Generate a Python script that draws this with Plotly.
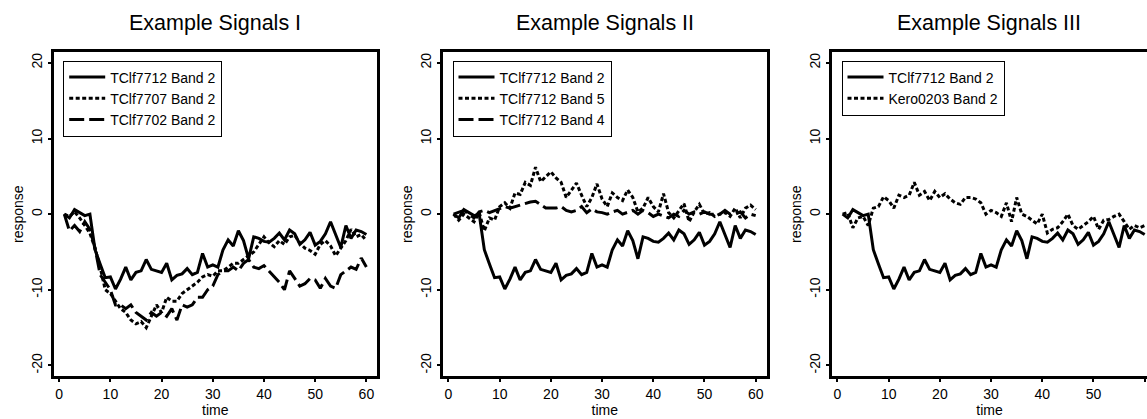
import plotly.graph_objects as go

W, H = 1147, 419

time = list(range(1, 61))

tclf7712_b2 = [0, -0.5, 0.6, 0.2, -0.2, 0, -4.7, -6.6, -8.4, -8.3,
               -9.9, -8.6, -7.0, -8.7, -7.7, -7.5, -6.0, -7.3, -7.5, -7.7,
               -6.5, -8.7, -8.1, -7.9, -7.2, -8.0, -7.7, -5.2, -7.0, -6.7,
               -7.0, -4.7, -3.4, -4.2, -2.2, -3.5, -5.9, -3.0, -3.2, -3.6,
               -3.7, -3.2, -2.5, -3.4, -2.1, -2.6, -4.0, -3.4, -2.4, -4.1,
               -3.6, -2.6, -1.0, -2.6, -4.4, -1.5, -3.2, -2.1, -2.3, -2.7]

tclf7707_b2 = [0, -0.3, 0.3, -0.5, -1.5, -2.5, -4.5, -7.0, -10.0, -10.5,
               -11.5, -12.5, -13.0, -14.0, -14.5, -14.2, -15.0, -13.5, -12.0, -13.0,
               -11.0, -11.5, -11.5, -10.5, -10.0, -9.5, -9.0, -8.3, -8.0, -8.2,
               -7.5, -7.5, -7.0, -6.5, -6.5, -6.0, -5.5, -5.0, -4.0, -3.0,
               -3.8, -4.3, -3.5, -4.0, -3.0, -2.8, -3.8, -4.5, -4.8, -5.3,
               -4.0, -3.5, -4.2, -5.5, -4.5, -3.5, -2.0, -3.0, -2.7, -3.5]

tclf7702_b2 = [0, -2.2, -1.5, -2.3, -1.0, -2.0, -4.5, -8.0, -9.0, -10.0,
               -12.0, -12.0, -12.5, -12.0, -13.0, -13.5, -14.0, -13.0, -13.5, -13.0,
               -13.5, -12.5, -14.0, -12.0, -12.3, -12.0, -11.0, -11.0, -10.0, -9.5,
               -8.0, -7.5, -7.5, -7.0, -7.5, -6.5, -6.0, -7.0, -7.2, -6.8,
               -7.5, -8.3, -9.0, -10.0, -7.5, -8.5, -9.5, -9.2, -8.5, -8.7,
               -9.8, -8.5, -9.5, -9.8, -8.0, -7.5, -7.0, -7.3, -5.8, -7.0]

tclf7712_b5 = [0, -0.8, 0, -0.5, -1.0, 0.2, -2.2, -0.5, -0.8, 1.0,
               1.5, 0.8, 2.8, 2.6, 4.2, 3.8, 6.2, 4.3, 5.0, 5.6,
               4.8, 4.2, 2.2, 3.2, 4.1, 2.5, 1.0, 2.2, 4.0, 2.0,
               1.0, 2.8, 2.2, 1.8, 3.2, 2.2, 0.3, 0.8, 2.2, 1.0,
               0.3, 2.7, 0.2, -0.5, 0.5, 1.4, -1.0, 0.3, 1.3, 0.0,
               0.2, -0.3, 0.0, 0.2, -0.3, 0.8, -0.5, 0.8, 1.2, 0.6]

tclf7712_b4 = [0, 0.2, 0.5, 0.0, -0.5, 0.3, 0.5, 0.2, 0.5, 0.8,
               1.0, 0.8, 1.0, 1.3, 1.4, 1.6, 1.7, 1.2, 0.8, 0.8,
               0.8, 1.0, 0.5, 0.3, 0.5, 1.0, 0.2, 0.7, 0.3, 0.2,
               0.0, 0.3, 0.5, 0.0, 0.2, 0.5, 0.0, 0.5, 0.2, -0.3,
               0.0, -0.3, -0.5, 0.0, -0.3, 0.5, 0.0, 0.3, 0.0, 0.3,
               0.0, 0.0, 0.0, 0.5, 0.0, 0.0, 0.3, -0.5, 0.0, -0.2]

kero0203_b2 = [0, 0.2, -1.8, -0.5, -0.3, -1.5, 0.8, 1.0, 2.3, 1.8,
               0.8, 2.5, 2.2, 2.5, 4.2, 2.5, 3.0, 1.8, 3.0, 2.2,
               2.7, 2.0, 1.5, 1.3, 2.2, 2.2, 2.0, 1.5, 0.0, 0.5,
               0.2, -0.3, 1.5, -1.0, 2.2, 0.0, -0.3, -0.8, -1.3, 0.0,
               -2.5, -2.0, -1.8, -1.0, 0.0, -1.5, -2.0, -1.5, -1.0, -0.3,
               -2.0, -0.8, -0.7, -0.3, 0.0, -1.0, -2.0, -1.5, -1.8, -1.5]

panel_titles = ["Example Signals I", "Example Signals II", "Example Signals III"]
x_ticks = [0, 10, 20, 30, 40, 50, 60]
y_ticks = [-20, -10, 0, 10, 20]
y_tick_labels = ["-20", "-10", "0", "10", "20"]

panels = [
    [("TClf7712 Band 2", tclf7712_b2, "solid"),
     ("TClf7707 Band 2", tclf7707_b2, "dot"),
     ("TClf7702 Band 2", tclf7702_b2, "dash")],
    [("TClf7712 Band 2", tclf7712_b2, "solid"),
     ("TClf7712 Band 5", tclf7712_b5, "dot"),
     ("TClf7712 Band 4", tclf7712_b4, "dash")],
    [("TClf7712 Band 2", tclf7712_b2, "solid"),
     ("Kero0203 Band 2", kero0203_b2, "dot")],
]

DASH = {"solid": "solid", "dot": "4px,2.5px", "dash": "15px,5px"}
FONT = "Liberation Sans, Arial, Helvetica, sans-serif"

# domains in pixels (left, right)
x_dom_px = [(53.7, 377.0), (443.0, 766.5), (832.0, 1147.0)]
y_dom_px = (52.3, 376.0)
px_per_unit = 5.12
x_min = -1.07

fig = go.Figure()
legend_names = ["legend", "legend2", "legend3"]

for i, series in enumerate(panels):
    sfx = "" if i == 0 else str(i + 1)
    for name, vals, dash in series:
        fig.add_trace(go.Scatter(
            x=time, y=vals, mode="lines", name=name,
            line=dict(color="black", width=3, dash=DASH[dash]),
            xaxis="x" + sfx, yaxis="y" + sfx, legend=legend_names[i],
        ))
    l, r = x_dom_px[i]
    x_max = x_min + (r - l) / px_per_unit
    axis_common = dict(
        showline=True, linecolor="black", linewidth=3,
        ticks="outside", ticklen=3, tickwidth=2, tickcolor="black",
        showgrid=False, zeroline=False,
        tickfont=dict(family=FONT, size=14, color="black"),
    )
    fig.update_layout(**{
        "xaxis" + sfx: dict(
            domain=[l / W, r / W], range=[x_min, x_max],
            tickvals=x_ticks, anchor="y" + sfx,
            mirror=True,
            title=dict(text="time", font=dict(family=FONT, size=14, color="black"), standoff=2),
            **axis_common),
        "yaxis" + sfx: dict(
            domain=[1 - y_dom_px[1] / H, 1 - y_dom_px[0] / H], range=[-21.4, 21.4],
            tickvals=y_ticks, ticktext=y_tick_labels, anchor="x" + sfx, tickangle=-90,
            mirror=(i < 2),
            title=dict(text="response", font=dict(family=FONT, size=14, color="black"), standoff=3),
            **axis_common),
        legend_names[i]: dict(
            x=(l - 1.5 + 11) / W, y=1 - 60.5 / H, xanchor="left", yanchor="top",
            bordercolor="black", borderwidth=1, bgcolor="white",
            font=dict(family=FONT, size=14, color="black"),
            tracegroupgap=0, itemwidth=36,
        ),
    })
    fig.add_annotation(
        text=panel_titles[i], x=((l + min(r, l + 323.3)) / 2) / W, y=1 - 23 / H,
        xref="paper", yref="paper", showarrow=False, xanchor="center", yanchor="middle",
        font=dict(family=FONT, size=21.5, color="black"),
    )

fig.update_layout(
    width=W, height=H,
    margin=dict(l=0, r=0, t=0, b=0),
    paper_bgcolor="white", plot_bgcolor="white",
    showlegend=True,
)

fig.write_html(
    "out.html",
    config={"displayModeBar": False},
    post_script="document.body.style.margin='0';document.body.style.overflow='hidden';",
)
